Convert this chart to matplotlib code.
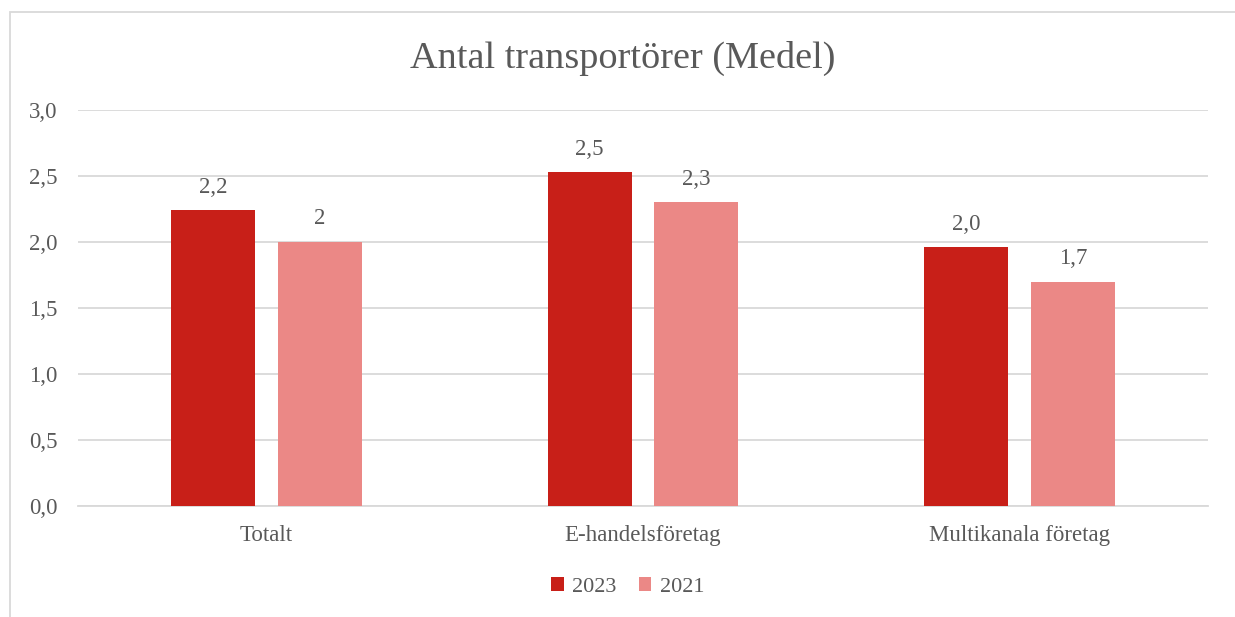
import numpy as np
import matplotlib.pyplot as plt
from matplotlib.patches import Rectangle

# Data
categories = ["Totalt", "E-handelsföretag", "Multikanala företag"]
values_2023 = [2.24, 2.53, 1.96]
values_2021 = [2.0, 2.3, 1.7]
labels_2023 = ["2,2", "2,5", "2,0"]
labels_2021 = ["2", "2,3", "1,7"]
series_names = ["2023", "2021"]
yticks = [0.0, 0.5, 1.0, 1.5, 2.0, 2.5, 3.0]

col_2023 = "#C81F18"
col_2021 = "#EB8886"
txt = "#595959"
grid = "#D9D9D9"

plt.rcParams['font.family'] = ['Liberation Serif', 'DejaVu Serif']

fig = plt.figure(figsize=(12.35, 6.17), dpi=100)
ax = fig.add_axes([78 / 1235, 1 - 506 / 617, (1208 - 78) / 1235, (506 - 110) / 617])

x = np.arange(len(categories))
w = 0.223
off = 0.142
b1 = ax.bar(x - off, values_2023, w, color=col_2023, label=series_names[0], zorder=3)
b2 = ax.bar(x + off, values_2021, w, color=col_2021, label=series_names[1], zorder=3)

for bars, labs in [(b1, labels_2023), (b2, labels_2021)]:
    for rect, lab in zip(bars, labs):
        ax.annotate(lab, (rect.get_x() + rect.get_width() / 2, rect.get_height()),
                    xytext=(0, 9), textcoords="offset points", ha="center", va="bottom",
                    fontsize=16.5, color=txt)

ax.set_xlim(-0.5, 2.5)
ax.set_ylim(0, 3.0)
ax.set_yticks(yticks)
ax.set_yticklabels([f"{v:.1f}".replace(".", ",") for v in yticks])
ax.set_xticks(x)
ax.set_xticklabels(categories)
ax.tick_params(axis="both", length=0, labelsize=16.5, labelcolor=txt)
ax.tick_params(axis="y", pad=15)
ax.tick_params(axis="x", pad=14)
ax.yaxis.grid(True, color=grid, linewidth=1.3, zorder=0)
for s in ["top", "right", "left"]:
    ax.spines[s].set_visible(False)
ax.spines["bottom"].set_color(grid)
ax.spines["bottom"].set_linewidth(1.3)

fig.text(623 / 1235, 1 - 58 / 617, "Antal transportörer (Medel)", ha="center", va="center",
         fontsize=27.5, color=txt)

fig.legend(loc="center", bbox_to_anchor=(628 / 1235, 1 - 587 / 617), ncol=2, frameon=False,
           fontsize=16, labelcolor=txt, handlelength=0.55, handleheight=0.55,
           handletextpad=0.4, columnspacing=1.0)

# outer chart border (cut off at right and bottom in the reference)
fig.patches.append(Rectangle((10 / 1235, -0.1), 1.2, 1 - 12 / 617 + 0.1, transform=fig.transFigure,
                             fill=False, edgecolor=grid, linewidth=1.3))

fig.savefig("out.png", dpi=100)
